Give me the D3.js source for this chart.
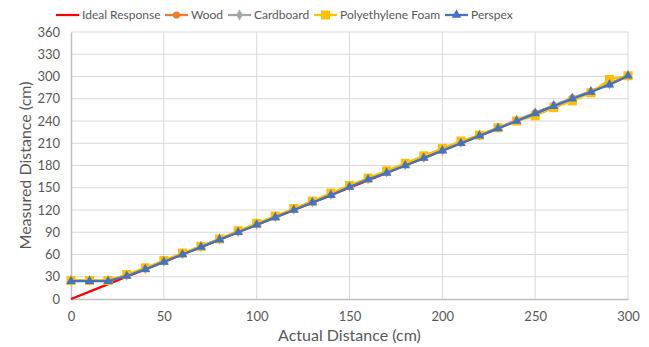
<!DOCTYPE html>
<html>
<head>
<meta charset="utf-8">
<script src="https://cdn.jsdelivr.net/npm/d3@7"></script>
<style>
  body { margin: 0; background: #fff; }
  svg { display: block; font-family: Lato, "Open Sans", sans-serif; }
</style>
</head>
<body>
<div id="chart"></div>
<script>
// data
var actual = [0,10,20,30,40,50,60,70,80,90,100,110,120,130,140,150,160,170,180,190,200,210,220,230,240,250,260,270,280,290,300];
var ideal = actual.slice();
var wood = [25,25,25,32,41,51,61,71,81,91,101,111,121,131,141,152,162,171,181,191,201,211,221,231,241,251,261,271,280,290,301];
var cardboard = [25,25,25,32,41,51,61,71,81,91,101,111,121,131,141,152,162,171,181,191,201,211,221,231,241,251,261,271,280,290,301];
var foam = [25,25,25,33,42,52,62,71,81,92,102,112,122,132,143,153,163,173,183,193,203,213,221,231,240,247,258,267,278,296,301];
var perspex = [24,24,24,31,40,50,60,70,80,90,100,110,120,130,140,151,161,170,180,190,200,210,220,230,240,250,260,270,279,289,301];
var xTicks = [0,50,100,150,200,250,300];
var yTicks = [0,30,60,90,120,150,180,210,240,270,300,330,360];

var series = [
  {name: "Ideal Response", values: ideal, color: "#FF0000", marker: null, lx: 56},
  {name: "Wood", values: wood, color: "#ED7D31", marker: "circle", lx: 165},
  {name: "Cardboard", values: cardboard, color: "#A5A5A5", marker: "diamond", lx: 228},
  {name: "Polyethylene Foam", values: foam, color: "#FFC000", marker: "square", lx: 314},
  {name: "Perspex", values: perspex, color: "#4472C4", marker: "triangle", lx: 445}
];

var width = 649, height = 347;
var margin = {left: 71, right: 21, top: 32, bottom: 48};

var svg = d3.select("#chart").append("svg")
  .attr("width", width)
  .attr("height", height);

var x = d3.scaleLinear().domain([0, 300]).range([margin.left, width - margin.right]);
var y = d3.scaleLinear().domain([0, 360]).range([height - margin.bottom, margin.top]);

// gridlines
svg.append("g").selectAll("line.h")
  .data(yTicks.filter(function(d) { return d > 0; }))
  .enter().append("line")
  .attr("x1", x(0)).attr("x2", x(300))
  .attr("y1", function(d) { return y(d); }).attr("y2", function(d) { return y(d); })
  .attr("stroke", "#D9D9D9").attr("stroke-width", 1);

svg.append("g").selectAll("line.v")
  .data(xTicks.filter(function(d) { return d > 0; }))
  .enter().append("line")
  .attr("x1", function(d) { return x(d); }).attr("x2", function(d) { return x(d); })
  .attr("y1", y(0)).attr("y2", y(360))
  .attr("stroke", "#D9D9D9").attr("stroke-width", 1);

// axes
var xAxis = svg.append("g")
  .attr("transform", "translate(0," + y(0) + ")")
  .call(d3.axisBottom(x).tickValues(xTicks).tickSize(0).tickPadding(13));
var yAxis = svg.append("g")
  .attr("transform", "translate(" + x(0) + ",0)")
  .call(d3.axisLeft(y).tickValues(yTicks).tickSize(0).tickPadding(11));

[xAxis, yAxis].forEach(function(a) {
  a.select(".domain").attr("stroke", "#BFBFBF").attr("stroke-width", 1.5);
  a.selectAll("text").attr("fill", "#595959").style("font-size", "13px")
    .style("font-family", "Lato, 'Open Sans', sans-serif");
});

svg.append("text")
  .attr("x", (x(0) + x(300)) / 2).attr("y", 341)
  .attr("text-anchor", "middle")
  .attr("fill", "#595959").style("font-size", "16px")
  .text("Actual Distance (cm)");

svg.append("text")
  .attr("transform", "translate(31," + ((y(0) + y(360)) / 2) + ") rotate(-90)")
  .attr("text-anchor", "middle")
  .attr("fill", "#595959").style("font-size", "16px")
  .text("Measured Distance (cm)");

// markers
function drawMarker(g, type, cx, cy, color) {
  if (type === "circle") {
    g.append("circle").attr("cx", cx).attr("cy", cy).attr("r", 3.6).attr("fill", color);
  } else if (type === "diamond") {
    g.append("path").attr("d", d3.symbol().type(d3.symbolDiamond).size(36)())
      .attr("transform", "translate(" + cx + "," + cy + ")").attr("fill", color);
  } else if (type === "square") {
    g.append("rect").attr("x", cx - 4.5).attr("y", cy - 4.5).attr("width", 9).attr("height", 9).attr("fill", color);
  } else if (type === "triangle") {
    g.append("path").attr("d", d3.symbol().type(d3.symbolTriangle).size(40)())
      .attr("transform", "translate(" + cx + "," + cy + ")").attr("fill", color);
  }
}

var line = d3.line()
  .x(function(d, i) { return x(actual[i]); })
  .y(function(d) { return y(d); });

series.forEach(function(s) {
  var g = svg.append("g");
  g.append("path")
    .datum(s.values)
    .attr("d", line)
    .attr("fill", "none")
    .attr("stroke", s.color)
    .attr("stroke-width", 2.25)
    .attr("stroke-linejoin", "round");
  if (s.marker) {
    s.values.forEach(function(v, i) {
      drawMarker(g, s.marker, x(actual[i]), y(v), s.color);
    });
  }
});

// legend
var legend = svg.append("g");
series.forEach(function(s) {
  var ly = 15;
  legend.append("line")
    .attr("x1", s.lx).attr("x2", s.lx + 23)
    .attr("y1", ly).attr("y2", ly)
    .attr("stroke", s.color).attr("stroke-width", 2.25);
  if (s.marker) drawMarker(legend, s.marker, s.lx + 11.5, ly, s.color);
  legend.append("text")
    .attr("x", s.lx + 26).attr("y", ly)
    .attr("dy", "0.35em")
    .attr("fill", "#595959").style("font-size", "12px")
    .text(s.name);
});
</script>
</body>
</html>
